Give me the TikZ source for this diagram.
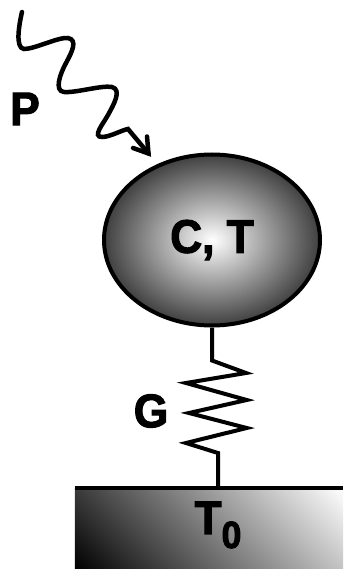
\documentclass[tikz,border=0pt]{standalone}
\usepackage{fontspec}
\setmainfont[BoldFeatures={FakeBold=2.4,FakeStretch=0.94}]{Liberation Sans}
\usetikzlibrary{shapes.geometric,arrows.meta,positioning}
\pgfdeclareradialshading{ballshade}{\pgfpointorigin}{color(0bp)=(white); color(25bp)=(black!75); color(50bp)=(black!75)}
\pgfdeclarehorizontalshading{plateshade}{100bp}{color(0bp)=(black); color(25bp)=(black); color(75bp)=(white); color(100bp)=(white)}
\begin{document}
\begin{tikzpicture}[
    x=1pt, y=-1pt,
    font=\fontsize{47}{47}\selectfont\bfseries,
    node distance=0mm,
    label/.style={inner sep=0pt},
    ball/.style={draw, ellipse, line width=4pt, minimum width=216pt, minimum height=171pt, inner sep=0pt, shading=ballshade},
    plate/.style={rectangle, minimum width=268pt, minimum height=81pt, inner sep=0pt},
    wire/.style={line width=4pt, line join=miter},
    photon/.style={line width=4.5pt, line cap=round, line join=miter}
]
\useasboundingbox (0,0) rectangle (343,569);
\node[plate] (base) at (209,528.5) {};
\begin{scope}
\clip (base.south west) rectangle (base.north east);
\shade[shading=plateshade, transform canvas={shift={(base.center)}, rotate=45}] (-123.4,-123.4) rectangle (123.4,123.4);
\end{scope}
\node[ball] (ct) at (212,240) {C, T};
\node[label] (t0) at (218,525) {T\raisebox{-0.3em}{\fontsize{38}{38}\selectfont 0}};
\node[label] (g) at (151,411) {G};
\node[label] (p) at (25,109) {P};
\coordinate (src) at (22,12);
\coordinate (tip) at (148.5,153.5);
\coordinate (barba) at (133,148);
\coordinate (barbb) at (147,136.5);
\coordinate (foot) at (218,488);

\draw[line width=4pt] (base.north west) -- (base.north east);
\draw[wire] (ct.south) -- ++(0,33) -- (246,373) -- (186,383) -- (246.7,400) -- (189,413)
    -- (246.7,428) -- (186,443) -- (218,453) -- (foot);
\draw[photon] (src) .. controls (19,25) and (15,48) .. (24,49)
    .. controls (35,49) and (58,37) .. (68,38) .. controls (78,40) and (72,52) .. (66,63)
    .. controls (60,74) and (54,91) .. (64,92) .. controls (76,93) and (102,85) .. (112,87)
    .. controls (122,90) and (114,104) .. (108,115) .. controls (103,124) and (92,137) .. (102,137)
    .. controls (110,137) and (122,130) .. (128,129) -- (tip);
\draw[photon] (barba) -- (tip) -- (barbb);
\end{tikzpicture}
\end{document}
